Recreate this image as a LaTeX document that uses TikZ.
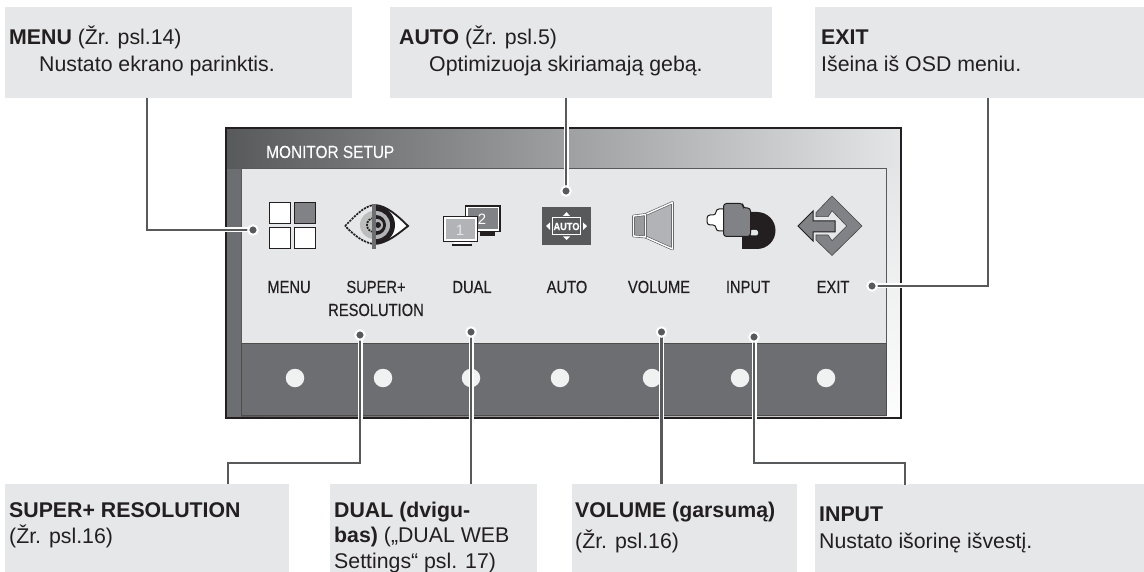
\documentclass[tikz,border=0pt]{standalone}
\usepackage{fontspec}
\setmainfont{Liberation Sans}
\newfontfamily\condfont[FakeStretch=0.84,FakeBold=0.35]{Liberation Sans}
\newfontfamily\condplain[FakeStretch=0.88,FakeBold=0.2]{Liberation Sans}
\definecolor{boxgray}{HTML}{E6E7E8}
\definecolor{linegray}{HTML}{58595B}
\definecolor{band}{HTML}{6D6E71}
\definecolor{ink}{HTML}{231F20}
\definecolor{mid}{HTML}{808285}
\definecolor{soft}{HTML}{B1B3B6}
\definecolor{framelight}{HTML}{E4E5E6}
\pgfdeclarelayer{hubtop}
\pgfsetlayers{main,hubtop}
\tikzset{
  calloutbox/.style={fill=boxgray,draw=none,anchor=north west,inner sep=0pt,outer sep=0pt},
  boxtext/.style={anchor=base west,inner sep=0pt,text=ink,font=\fontsize{21.3}{25.5}\selectfont},
  iconlabel/.style={anchor=base,inner sep=0pt,text=ink,font=\condfont\fontsize{17.5}{20}\selectfont},
  hub/.style={circle,fill=linegray,draw=white,line width=2pt,minimum size=9.5pt,inner sep=0pt,outer sep=0pt},
  halo/.style={draw=white,line width=5pt,line join=miter},
  wire/.style={draw=linegray,line width=2.4pt,line join=miter},
  keydot/.style={circle,fill=boxgray!60!white,draw=none,minimum size=18.5pt,inner sep=0pt},
  menucell/.style={draw=ink,line width=1pt,fill=white},
}
\begin{document}
\begin{tikzpicture}[x=1pt,y=-1pt]
\useasboundingbox (0,0) rectangle (1144,572);
% callout boxes
\node[calloutbox,minimum width=347pt,minimum height=91pt] (bmenu) at (5,7) {};
\node[calloutbox,minimum width=382pt,minimum height=91pt] (bauto) at (390,7) {};
\node[calloutbox,minimum width=329pt,minimum height=91pt] (bexit) at (815,7) {};
\node[calloutbox,minimum width=284pt,minimum height=88pt] (bsuper) at (5,484) {};
\node[calloutbox,minimum width=207pt,minimum height=88pt] (bdual) at (330,484) {};
\node[calloutbox,minimum width=225pt,minimum height=88pt] (bvol) at (571.5,484) {};
\node[calloutbox,minimum width=329pt,minimum height=88pt] (binput) at (815,484) {};
% box text
\node[boxtext] (t1) at (9,45) {\textbf{MENU} (Žr. psl.14)};
\node[boxtext] (t2) at (39,72) {Nustato ekrano parinktis.};
\node[boxtext] (t3) at (399,45) {\textbf{AUTO} (Žr. psl.5)};
\node[boxtext] (t4) at (429,72) {Optimizuoja skiriamają gebą.};
\node[boxtext] (t5) at (821,45) {\textbf{EXIT}};
\node[boxtext] (t6) at (821,72) {Išeina iš OSD meniu.};
\node[boxtext] (t7) at (9,517) {\textbf{SUPER+ RESOLUTION}};
\node[boxtext] (t8) at (9,543) {(Žr. psl.16)};
\node[boxtext] (t9) at (334,517) {\textbf{DUAL (dvigu-}};
\node[boxtext] (t10) at (334,542) {\textbf{bas)} („DUAL WEB};
\node[boxtext] (t11) at (334,568) {Settings“ psl. 17)};
\node[boxtext] (t12) at (575,517) {\textbf{VOLUME (garsumą)}};
\node[boxtext] (t13) at (575,548) {(Žr. psl.16)};
\node[boxtext] (t14) at (819,521) {\textbf{INPUT}};
\node[boxtext] (t15) at (819,548) {Nustato išorinę išvestį.};
% monitor
\shade[left color=linegray,right color=framelight] (226,128) rectangle (901,418);
\shade[top color=framelight,bottom color=white!92!boxgray] (886,169) rectangle (901,418);
\fill[band] (227,169) rectangle (241,417);
\draw[ink,line width=2.4pt] (226,128) rectangle (901,418);
\draw[linegray,line width=1pt,fill=boxgray] (241,169) rectangle (886,343);
\draw[ink!80!white,line width=1pt,fill=band] (241,343) rectangle (886,415);
\node[anchor=base west,inner sep=0pt,text=white,font=\condplain\fontsize{17.5}{20}\selectfont] (title) at (266,158) {MONITOR SETUP};
% keys
\node[keydot] (k1) at (295,378) {};
\node[keydot] (k2) at (383,378) {};
\node[keydot] (k3) at (471,378) {};
\node[keydot] (k4) at (560,378) {};
\node[keydot] (k5) at (652,378) {};
\node[keydot] (k6) at (740,378) {};
\node[keydot] (k7) at (826,378) {};
% icon labels
\node[iconlabel] (l1) at (289,293) {MENU};
\node[iconlabel] (l2) at (376,293) {SUPER+};
\node[iconlabel] (l2b) at (376,316) {RESOLUTION};
\node[iconlabel] (l3) at (472,293) {DUAL};
\node[iconlabel] (l4) at (567,293) {AUTO};
\node[iconlabel] (l5) at (659,293) {VOLUME};
\node[iconlabel] (l6) at (748,293) {INPUT};
\node[iconlabel] (l7) at (833,293) {EXIT};
% MENU icon
\draw[menucell] (269,202.5) rectangle (290,223.5);
\draw[menucell,fill=mid] (294.5,202.5) rectangle (315.5,223.5);
\draw[menucell] (269,228) rectangle (290,249);
\draw[menucell] (294.5,228) rectangle (315.5,249);
% eye icon
\def\almond{(345,226) .. controls (355,216) and (364,206) .. (374,205) .. controls (386,205) and (398,216) .. (408,226) .. controls (398,234) and (386,244) .. (374,244) .. controls (364,243) and (355,236) .. (345,226) -- cycle}
\begin{scope}
\clip (340,200) rectangle (374,252);
\fill[black!26] (374,225) circle[radius=14];
\draw[ink,line width=1.7pt,dash pattern=on 2pt off 1pt] (374,225) circle[radius=7];
\draw[ink,line width=1.7pt,dash pattern=on 2.2pt off 1pt] \almond;
\end{scope}
\begin{scope}
\clip (374,200) rectangle (412,252);
\fill[white!90!boxgray] \almond;
\begin{scope}
\clip \almond;
\fill[ink] (376,225) circle[radius=19];
\end{scope}
\fill[soft] (376,225) circle[radius=14];
\fill[ink] (376,225) circle[radius=10];
\fill[soft] (377,225) circle[radius=6];
\fill[ink] (378,225) circle[radius=3];
\draw[ink,line width=1.8pt] \almond;
\end{scope}
\draw[band,line width=3.4pt] (374,204) -- (374,249);
% dual icon
\fill[ink] (480,232) rectangle (495,236.5);
\draw[ink,line width=1.2pt,fill=white] (465.5,206) rectangle (500,231.5);
\fill[mid] (468,208.5) rectangle (497.5,229);
\node[inner sep=0pt,text=white,font=\fontsize{15}{15}\selectfont] (d2) at (482,219) {2};
\fill[ink] (452,244) rectangle (472,246.5);
\fill[white] (454,241) rectangle (470,244);
\draw[ink,line width=1.2pt,fill=white] (443.5,216.5) rectangle (477.5,241.5);
\fill[soft] (446,219) rectangle (475,239);
\node[inner sep=0pt,text=boxgray,font=\fontsize{15}{15}\selectfont] (d1) at (460,230) {1};
% auto icon
\fill[linegray] (542,207) rectangle (591,245);
\draw[white,line width=1pt,fill=linegray] (552.5,218) rectangle (580.5,234.5);
\node[inner sep=0pt,text=white,font=\condplain\bfseries\fontsize{10.5}{10}\selectfont] (a1) at (566.5,226.5) {AUTO};
\fill[white] (566.5,212) -- (570,216) -- (563,216) -- cycle;
\fill[white] (566.5,240) -- (570,236.5) -- (563,236.5) -- cycle;
\fill[white] (546,226) -- (550,222.5) -- (550,230) -- cycle;
\fill[white] (587,226) -- (583,222.5) -- (583,230) -- cycle;
% volume icon
\def\conepath{(645.5,214.5) -- (672.5,202.5) -- (672.5,249) -- (645.5,237) -- cycle}
\def\neckpath{(633.5,216) -- (645.5,214.5) -- (645.5,237) -- (633.5,236) -- cycle}
\draw[linegray,line width=2.6pt,line join=round,fill=soft] \conepath;
\draw[white,line width=1.4pt,line join=round] \conepath;
\draw[linegray,line width=2.6pt,line join=round,fill=mid!80!white] \neckpath;
\draw[white,line width=1.4pt,line join=round] \neckpath;
% input icon
\fill[ink] (742,212) -- (757,212) arc[start angle=-90,end angle=90,radius=18.5] -- (742,249) -- cycle;
\fill[boxgray,rounded corners=2pt] (750,230) rectangle (758,235.5);
\draw[ink,line width=1pt,fill=white,rounded corners=3pt] (716,215) -- (707,215) -- (707,225) -- (716,225) -- (716,231) -- (726,231) -- (726,209) -- (716,209) -- cycle;
\draw[ink,line width=1pt,fill=mid,rounded corners=3pt] (723.5,203.5) -- (743,203.5) -- (743,208) -- (750.5,208) -- (750.5,236.5) -- (723.5,236.5) -- cycle;
% exit icon
\draw[ink!60!mid,line width=.6pt,fill=mid,line join=miter] (816,212.7) -- (832,196) -- (862,226) -- (832,255.5) -- (816,240) -- (816,235) -- (828,235) -- (832,240.7) -- (846.7,226) -- (832,210.7) -- (828,216.7) -- (816,216.7) -- cycle;
\draw[ink,line width=1pt,fill=mid,line join=miter] (798,226) -- (813,211) -- (813,221) -- (835,221) -- (835,232) -- (813,232) -- (813,241) -- cycle;
% connectors
\coordinate (amenu) at (147,98);
\coordinate (aauto) at (566,98);
\coordinate (aexit) at (988,98);
\coordinate (asuper) at (228,484);
\coordinate (adual) at (471,484);
\coordinate (avol) at (661.5,484);
\coordinate (ainput) at (905,485);
\coordinate (msuper) at (360,463);
\coordinate (minput) at (754,463);
\begin{pgfonlayer}{hubtop}
\node[hub] (hmenu) at (253,230) {};
\node[hub] (hauto) at (566,191) {};
\node[hub] (hexit) at (872,286) {};
\node[hub] (hsuper) at (360,335) {};
\node[hub] (hdual) at (471,332) {};
\node[hub] (hvol) at (661.5,332) {};
\node[hub] (hinput) at (754,337) {};
\end{pgfonlayer}
\foreach \sty in {halo,wire}{
  \draw[\sty] (amenu) |- (hmenu.center);
  \draw[\sty] (aauto) -- (hauto.center);
  \draw[\sty] (aexit) |- (hexit.center);
  \draw[\sty] (hsuper.center) -- (msuper) -| (asuper);
  \draw[\sty] (hdual.center) -- (adual);
  \draw[\sty] (hvol.center) -- (avol);
  \draw[\sty] (hinput.center) -- (minput) -| (ainput);
}
\end{tikzpicture}
\end{document}
